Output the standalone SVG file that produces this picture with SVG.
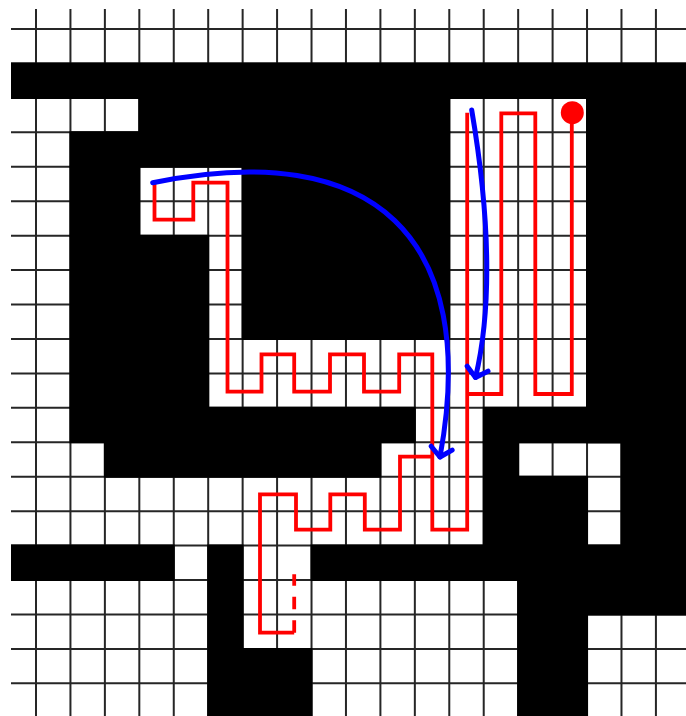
<svg xmlns="http://www.w3.org/2000/svg" width="686" height="716" viewBox="0 0 686 716">
  <style>
    .wall { fill: #000000; stroke: #000000; stroke-width: 2; vector-effect: non-scaling-stroke; }
    .grid { stroke: #262626; stroke-width: 2; fill: none; }
    .route { stroke: #ff0000; stroke-width: 3.8; fill: none; stroke-linejoin: miter; stroke-linecap: butt; }
    .jump { stroke: #0000ff; stroke-width: 5; fill: none; stroke-linecap: round; stroke-linejoin: round; }
  </style>
  <defs>
    <clipPath id="axes">
      <rect x="11" y="9" width="675" height="707"/>
    </clipPath>
    <marker id="openHead" markerUnits="userSpaceOnUse" orient="auto" refX="0" refY="0" markerWidth="40" markerHeight="40" overflow="visible">
      <path d="M-9,-10.7 L0,0 L-9,10.7" stroke="#0000ff" stroke-width="5" fill="none" stroke-linecap="round" stroke-linejoin="round"/>
    </marker>
  </defs>
  <rect x="0" y="0" width="686" height="716" fill="#ffffff"/>
  <g id="maze" clip-path="url(#axes)">
    <g id="grid-lines">
      <path class="grid" d="M36,9V716M70.44,9V716M104.88,9V716M139.32,9V716M173.76,9V716M208.2,9V716M242.64,9V716M277.08,9V716M311.52,9V716M345.96,9V716M380.4,9V716M414.84,9V716M449.28,9V716M483.72,9V716M518.16,9V716M552.6,9V716M587.04,9V716M621.48,9V716M655.92,9V716"/>
      <path class="grid" d="M11,29H686M11,63.44H686M11,97.88H686M11,132.32H686M11,166.76H686M11,201.2H686M11,235.64H686M11,270.08H686M11,304.52H686M11,338.96H686M11,373.4H686M11,407.84H686M11,442.28H686M11,476.72H686M11,511.16H686M11,545.6H686M11,580.04H686M11,614.48H686M11,648.92H686M11,683.36H686"/>
    </g>
    <g id="walls" transform="translate(1.56,-5.44) scale(34.44)">
      <rect class="wall" x="0" y="2" width="20" height="1"/>
      <rect class="wall" x="17" y="3" width="3" height="10"/>
      <rect class="wall" x="14" y="12" width="6" height="1"/>
      <rect class="wall" x="4" y="3" width="9" height="1"/>
      <rect class="wall" x="2" y="4" width="11" height="1"/>
      <rect class="wall" x="2" y="5" width="2" height="2"/>
      <rect class="wall" x="7" y="5" width="6" height="5"/>
      <rect class="wall" x="2" y="7" width="4" height="5"/>
      <rect class="wall" x="2" y="12" width="10" height="1"/>
      <rect class="wall" x="3" y="13" width="8" height="1"/>
      <rect class="wall" x="14" y="13" width="1" height="3"/>
      <rect class="wall" x="15" y="14" width="2" height="2"/>
      <rect class="wall" x="18" y="13" width="2" height="4"/>
      <rect class="wall" x="0" y="16" width="5" height="1"/>
      <rect class="wall" x="6" y="16" width="1" height="5"/>
      <rect class="wall" x="9" y="16" width="11" height="1"/>
      <rect class="wall" x="15" y="17" width="5" height="1"/>
      <rect class="wall" x="15" y="18" width="2" height="3"/>
      <rect class="wall" x="7" y="19" width="2" height="2"/>
    </g>
  </g>
  <g id="route">
    <path class="route" d="M571.8,112.7 V394 H535.3 V113.3 H501.3 V394 H467.2"/>
    <path class="route" d="M467.2,112.7 V529.7 H432.3 V354.3 H399.2 V391.7 H364 V354.3 H330 V391.7 H294.2 V354.3 H261.5 V391.7 H227.5 V182.7 H193.3 V219.7 H154.5 V182.7"/>
    <path class="route" d="M432.3,456.7 H400 V529.7 H364.8 V494.3 H330.3 V529.7 H296 V494.3 H260 V632.7 H294.2"/>
    <path class="route" d="M294.2,632.7 V574.3" stroke-dasharray="12.5 11"/>
    <circle id="start-dot" cx="572.3" cy="112.7" r="11.5" fill="#ff0000"/>
  </g>
  <g id="connectors">
    <path class="jump" d="M471.7,110 C487,200 494,300 475.5,377.5" marker-end="url(#openHead)"/>
    <path class="jump" d="M152.7,182.7 C375,137 480,238 440,457" marker-end="url(#openHead)"/>
  </g>
</svg>
